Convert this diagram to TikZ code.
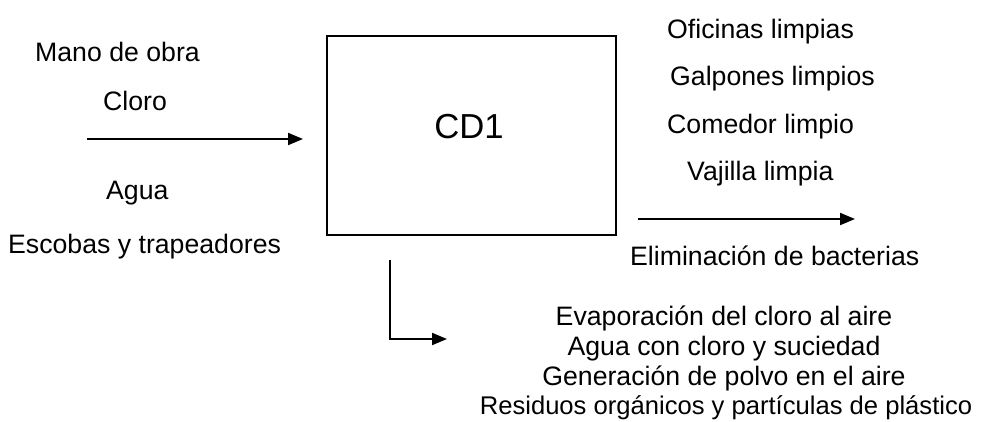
\documentclass[tikz,border=0pt]{standalone}
\usepackage{fontspec}
\setmainfont{Liberation Sans}
\usetikzlibrary{arrows.meta}

\tikzset{
  txt/.style={inner sep=0pt, anchor=base west, font=\fontsize{26.67}{32}\selectfont},
  txtc/.style={txt, anchor=base},
  flecha/.style={line width=2pt, -{Triangle[length=15pt,width=12pt]}},
}

\begin{document}
\begin{tikzpicture}[x=1pt,y=-1pt]
\useasboundingbox (0,0) rectangle (982,421);
% proceso
\node (cd1box) [draw, line width=2pt, minimum width=289pt, minimum height=199pt, inner sep=0pt] at (471.5,135.5) {};
\node (cd1) [inner sep=0pt, anchor=base, font=\fontsize{34.7}{40}\selectfont] at (469,138) {CD1};
% entradas
\node (mano) [txt] at (35,61) {Mano de obra};
\node (cloro) [txt] at (103,110) {Cloro};
\node (agua) [txt] at (106,199) {Agua};
\node (escobas) [txt] at (8,253) {Escobas y trapeadores};
\coordinate (ent1) at (87,139);
\coordinate (ent2) at (303,139);
\draw [flecha] (ent1) -- (ent2);
% salidas
\node (oficinas) [txt] at (667,38) {Oficinas limpias};
\node (galpones) [txt] at (670,85) {Galpones limpios};
\node (comedor) [txt] at (667,133) {Comedor limpio};
\node (vajilla) [txt] at (687,180) {Vajilla limpia};
\coordinate (sal1) at (638,219);
\coordinate (sal2) at (855,219);
\draw [flecha] (sal1) -- (sal2);
\node (bacterias) [txt] at (630,265) {Eliminación de bacterias};
% residuos
\coordinate (res1) at (390,260);
\coordinate (res2) at (390,339);
\coordinate (res3) at (447,339);
\draw [flecha] (res1) -- (res2) -- (res3);
\node (evap) [txtc] at (724,325) {Evaporación del cloro al aire};
\node (aguacl) [txtc] at (724,355) {Agua con cloro y suciedad};
\node (polvo) [txtc] at (724,385) {Generación de polvo en el aire};
\node (resid) [txtc, font=\fontsize{25.6}{30}\selectfont] at (726,414) {Residuos orgánicos y partículas de plástico};
\end{tikzpicture}
\end{document}
